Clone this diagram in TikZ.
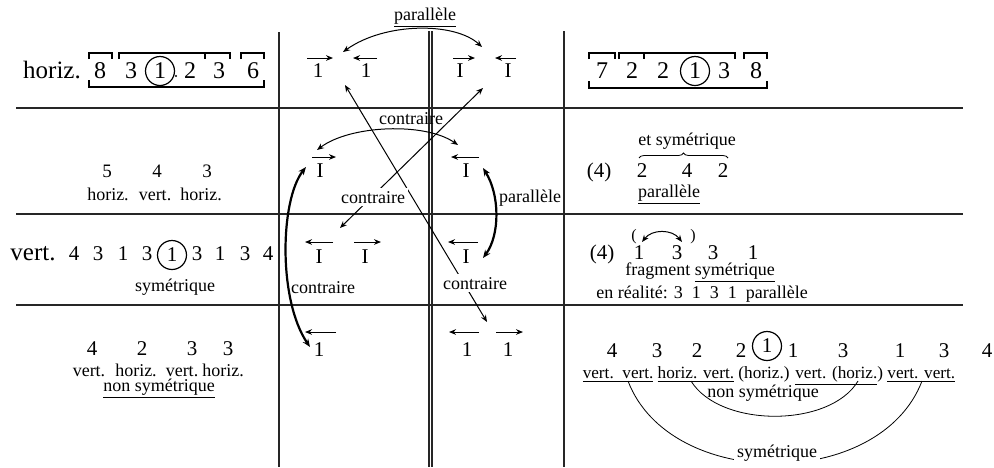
\documentclass[tikz,border=0pt]{standalone}
\usepackage{fontspec}
\setmainfont{Liberation Serif}
\usetikzlibrary{arrows.meta,decorations.pathreplacing}
\begin{document}
\begin{tikzpicture}[x=0.5pt,y=-0.5pt,
  rule/.style={line width=0.8pt, draw=black!85},
  lab/.style={font=\fontsize{9}{10}\selectfont, inner sep=0pt, anchor=base},
  wlab/.style={lab, fill=white, inner sep=1.5pt},
  big/.style={font=\fontsize{12}{14}\selectfont, inner sep=0pt, anchor=base},
  dig/.style={font=\fontsize{10.5}{12}\selectfont, inner sep=0pt, anchor=base},
  circ/.style={draw, circle, minimum size=14.5pt, inner sep=0pt, line width=0.6pt},
  brk/.style={line width=0.6pt},
  sarr/.style={-{Stealth[length=3.5pt,width=2.8pt]}, line width=0.5pt},
  darr/.style={{Stealth[length=3.5pt,width=2.8pt]}-{Stealth[length=3.5pt,width=2.8pt]}, line width=0.5pt},
  tharr/.style={{Stealth[length=4pt,width=3.2pt]}-{Stealth[length=4pt,width=3.2pt]}, line width=1.1pt},
  thin/.style={line width=0.4pt},
]
\useasboundingbox (0,0) rectangle (994,467);

% ---------- grid ----------
\draw[rule] (16,108) -- (963,108);
\draw[rule] (16,214) -- (963,214);
\draw[rule] (16,305) -- (963,305);
\draw[rule] (279,32) -- (279,467);
\draw[rule] (429,31) -- (429,467);
\draw[rule] (432,31) -- (432,467);
\draw[rule] (564,31) -- (564,467);

% ---------- row 1, left ----------
\node[big,font=\fontsize{12.5}{14}\selectfont] (hz) at (52,78) {horiz.};
\node[big] (a8) at (100,78) {8};
\node[big] (a3) at (131,78) {3};
\node[circ,font=\fontsize{12}{14}\selectfont] (a1) at (160,71) {1};
\fill (176,76) circle (0.6pt);
\node[big] (a2) at (190,78) {2};
\node[big] (a3b) at (219,78) {3};
\node[big] (a6) at (253,78) {6};
\draw[brk] (89,59) -- (89,53) -- (112,53) -- (112,59);
\draw[brk] (119,59) -- (119,53) -- (230,53) -- (230,59);
\draw[brk] (205,53) -- (205,59);
\draw[brk] (241,59) -- (241,53) -- (264,53) -- (264,59);
\draw[brk] (89,80) -- (89,87) -- (264,87) -- (264,80);

% ---------- row 1, right ----------
\node[big] (b7) at (602,78) {7};
\node[big] (b2) at (632,78) {2};
\node[big] (b2b) at (663,78) {2};
\node[circ,font=\fontsize{12}{14}\selectfont] (b1) at (695,71) {1};
\node[big] (b3) at (724,78) {3};
\node[big] (b8) at (756,78) {8};
\draw[brk] (589,59) -- (589,53) -- (615,53) -- (615,59);
\draw[brk] (619,59) -- (619,53) -- (735,53) -- (735,59);
\draw[brk] (644,53) -- (644,59);
\draw[brk] (744,59) -- (744,53) -- (767,53) -- (767,59);
\draw[brk] (589,81) -- (589,88) -- (767,88) -- (767,81);

% ---------- middle column glyphs ----------
\node[dig] (m1a) at (318,77) {1};
\node[dig] (m1b) at (366,77) {1};
\node[dig] (m1c) at (460,77) {I};
\node[dig] (m1d) at (508,77) {I};
\draw[sarr] (307,58) -- (333,58);
\draw[sarr] (377,58) -- (353,58);
\draw[sarr] (453,58) -- (475,58);
\draw[sarr] (516,58) -- (495,58);

\node[dig] (m2a) at (320,177) {I};
\node[dig] (m2b) at (466,177) {I};
\draw[sarr] (312,157) -- (336,157);
\draw[sarr] (479,157) -- (451,157);

\node[dig] (m3a) at (319,263) {I};
\node[dig] (m3b) at (365,263) {I};
\node[dig] (m3c) at (466,263) {I};
\draw[sarr] (333,242) -- (305,242);
\draw[sarr] (354,242) -- (381,242);
\draw[sarr] (478,242) -- (448,242);

\node[dig] (m4a) at (319,356) {1};
\node[dig] (m4b) at (467,356) {1};
\node[dig] (m4c) at (508,356) {1};
\draw[sarr] (336,332) -- (305,332);
\draw[sarr] (479,332) -- (449,332);
\draw[sarr] (496,332) -- (523,332);

% ---------- middle connectors ----------
\coordinate (pa) at (343,52);
\coordinate (pb) at (482,47);
\draw[darr] (pa) .. controls (385,22) and (455,22) .. (pb);
\node[lab] (tpar) at (425,20) {\underline{parallèle}};

\coordinate (ca) at (317,150);
\coordinate (cb) at (458,145);
\draw[darr] (ca) .. controls (350,125) and (425,122) .. (cb);
\node[lab] (tcon) at (411,124) {contraire};

\coordinate (ra) at (483,168);
\coordinate (rb) at (483,258);
\draw[tharr] (ra) .. controls (500,195) and (500,235) .. (rb);
\node[lab] (rpar) at (530,202) {parallèle};

\coordinate (la) at (306,167);
\coordinate (lb) at (310,347);
\draw[tharr] (la) .. controls (280,200) and (278,300) .. (lb);
\node[lab] (lcon) at (323,293) {contraire};

\coordinate (d1a) at (345,85);
\coordinate (d1b) at (487,322);
\draw[darr] (d1a) -- (d1b);
\node[wlab] (dcon1) at (475,289) {contraire};

\coordinate (d2a) at (483,88);
\coordinate (d2b) at (340,228);
\draw[darr] (d2a) -- (d2b);
\node[wlab] (dcon2) at (373,203) {contraire};

% ---------- left column ----------
\node[lab,font=\fontsize{9.5}{11}\selectfont] (l25) at (107,177) {5};
\node[lab,font=\fontsize{9.5}{11}\selectfont] (l24) at (157,177) {4};
\node[lab,font=\fontsize{9.5}{11}\selectfont] (l23) at (207,177) {3};
\node[lab] (l2h) at (108,200) {horiz.};
\node[lab] (l2v) at (155,200) {vert.};
\node[lab] (l2h2) at (201,200) {horiz.};

\node[big,font=\fontsize{12.5}{14}\selectfont] (vt) at (33,260) {vert.};
\node[dig] (r3a) at (74,260) {4};
\node[dig] (r3b) at (98,260) {3};
\node[dig] (r3c) at (123,260) {1};
\node[dig] (r3d) at (147,260) {3};
\node[circ,font=\fontsize{10.5}{12}\selectfont] (r3e) at (172,255) {1};
\node[dig] (r3f) at (197,260) {3};
\node[dig] (r3g) at (220,260) {1};
\node[dig] (r3h) at (245,260) {3};
\node[dig] (r3i) at (268,260) {4};
\node[lab] (r3s) at (175,291) {symétrique};

\node[dig] (r4a) at (92,355) {4};
\node[dig] (r4b) at (142,355) {2};
\node[dig] (r4c) at (192,355) {3};
\node[dig] (r4d) at (228,355) {3};
\node[lab] (r4la) at (89,376) {vert.};
\node[lab] (r4lb) at (136,376) {horiz.};
\node[lab] (r4lc) at (182,376) {vert.};
\node[lab] (r4ld) at (223,376) {horiz.};
\node[lab] (r4ns) at (159,391) {\underline{non symétrique}};

% ---------- right column ----------
\node[lab] (q2et) at (687,145) {et symétrique};
\draw[thin,decorate,decoration={brace,amplitude=2.5pt}] (639,158) -- (728,158);
\node[dig] (q2p) at (599,177) {(4)};
\node[dig] (q2a) at (642,177) {2};
\node[dig] (q2b) at (687,177) {4};
\node[dig] (q2c) at (723,177) {2};
\node[lab] (q2par) at (669,197) {\underline{parallèle}};

\node[dig] (q3p) at (602,259) {(4)};
\node[dig] (q3a) at (639,259) {1};
\node[dig] (q3b) at (677,259) {3};
\node[dig] (q3c) at (713,259) {3};
\node[dig] (q3d) at (753,259) {1};
\node[lab,font=\fontsize{8}{9}\selectfont] (q3o) at (634,240) {(};
\node[lab,font=\fontsize{8}{9}\selectfont] (q3c2) at (693,240) {)};
\coordinate (qa) at (642,242);
\coordinate (qb) at (682,242);
\draw[darr] (qa) .. controls (652,229) and (672,229) .. (qb);
\node[lab] (q3fr) at (700,275) {fragment \underline{symétrique}};
\node[lab] (q3re) at (702,298) {en réalité: 3\ \ 1\ \ 3\ \ 1\ \ parallèle};

\node[dig] (q4a) at (612,357) {4};
\node[dig] (q4b) at (657,357) {3};
\node[dig] (q4c) at (697,357) {2};
\node[dig] (q4d) at (741,357) {2};
\node[circ,font=\fontsize{10.5}{12}\selectfont] (q4e) at (767,346) {1};
\node[dig] (q4f) at (793,357) {1};
\node[dig] (q4g) at (843,357) {3};
\node[dig] (q4h) at (900,357) {1};
\node[dig] (q4i) at (944,357) {3};
\node[dig] (q4j) at (987,357) {4};
\node[lab,font=\fontsize{8.6}{10}\selectfont] (q4lab) at (769,378) {\underline{vert.\ \ vert.} \underline{horiz. vert.} (horiz.) \underline{vert. (horiz.}) \underline{vert. vert.}};

\coordinate (na) at (691,381);
\coordinate (nb) at (858,381);
\draw[thin] (na) .. controls (720,428) and (830,428) .. (nb);
\node[lab] (q4ns) at (763,397) {non symétrique};

\coordinate (sa) at (628,381);
\coordinate (sb) at (922,381);
\draw[thin] (sa) .. controls (670,491) and (880,491) .. (sb);
\node[wlab] (q4s) at (777,457) {symétrique};

\end{tikzpicture}
\end{document}
